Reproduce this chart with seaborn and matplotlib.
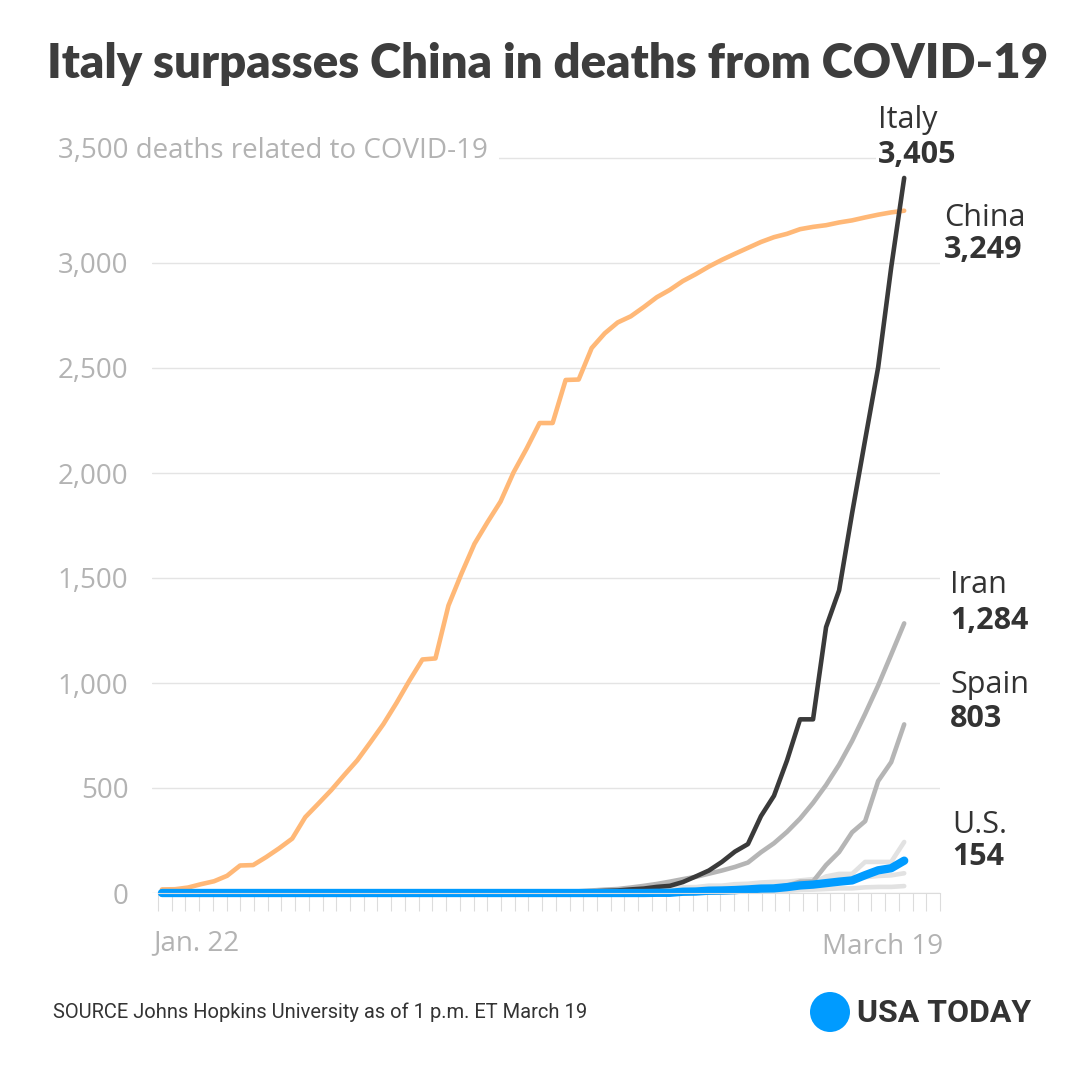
import numpy as np
import pandas as pd
import matplotlib
matplotlib.use('Agg')
import matplotlib.pyplot as plt
import seaborn as sns
from matplotlib.patches import Circle

# data: cumulative deaths, JHU, Jan. 22 - March 19
dates = pd.date_range('2020-01-22', '2020-03-19')

china = [17, 18, 26, 42, 56, 82, 131, 133, 171, 213,
         259, 361, 425, 490, 562, 632, 717, 804, 904, 1011,
         1112, 1117, 1369, 1521, 1663, 1766, 1864, 2003, 2116, 2238,
         2238, 2443, 2445, 2595, 2665, 2717, 2746, 2790, 2837, 2872,
         2914, 2947, 2983, 3015, 3044, 3072, 3100, 3123, 3139, 3161,
         3172, 3180, 3193, 3203, 3217, 3230, 3241, 3249]
italy = [0] * 30 + [1, 2, 3, 7, 10, 12, 17, 21, 29,
                    34, 52, 79, 107, 148, 197, 233, 366, 463, 631,
                    827, 827, 1266, 1441, 1809, 2158, 2503, 2978, 3405]
iran = [0] * 28 + [2, 2, 4, 5, 8, 12, 16, 19, 26, 34, 43,
                   54, 66, 77, 92, 107, 124, 145, 194, 237, 291,
                   354, 429, 514, 611, 724, 853, 988, 1135, 1284]
spain = [0] * 41 + [1, 2, 3, 5, 10, 17, 28, 35, 54, 55,
                    133, 195, 289, 342, 533, 623, 803]
us = [0] * 38 + [1, 1, 6, 7, 11, 12, 14, 17, 21, 22,
                 28, 36, 40, 47, 54, 60, 85, 108, 118, 154]
france = [0] * 23 + [1] * 12 + [2, 2, 2, 2,
                                 2, 3, 4, 4, 6, 9, 11, 19, 19, 33,
                                 48, 48, 79, 91, 91, 148, 148, 148, 243]
korea = [0] * 29 + [1, 2, 2, 6, 8, 10, 12, 13, 13, 16,
                    17, 28, 28, 35, 35, 42, 44, 50, 53, 54,
                    60, 66, 66, 72, 75, 75, 81, 84, 94]
japan = [0] * 22 + [1] * 13 + [2, 4, 4, 5,
                                6, 6, 6, 6, 6, 6, 6, 6, 10, 10,
                                15, 16, 19, 22, 22, 27, 29, 29, 33]

series = {'Japan': japan, 'South Korea': korea, 'France': france,
          'Spain': spain, 'Iran': iran, 'China': china, 'Italy': italy,
          'U.S.': us}
colors = {'Japan': '#e2e2e2', 'South Korea': '#e2e2e2', 'France': '#e2e2e2',
          'Spain': '#b5b5b5', 'Iran': '#b5b5b5', 'China': '#ffb877',
          'Italy': '#3a3a3a', 'U.S.': '#009bff'}

rows = []
for name, vals in series.items():
    for i, v in enumerate(vals):
        rows.append({'country': name, 'day': i, 'date': dates[i], 'deaths': v})
df = pd.DataFrame(rows)

labels = [('Italy', '3,405', 878, 120, 155),
          ('China', '3,249', 944, 218, 250),
          ('Iran', '1,284', 950, 585, 621),
          ('Spain', '803', 950, 685, 719),
          ('U.S.', '154', 952, 825, 857)]

sns.set_theme(style='white')
plt.rcParams['font.family'] = ['Open Sans', 'DejaVu Sans']

fig = plt.figure(figsize=(10.8, 10.8), dpi=100)
ax = fig.add_axes([152 / 1080, 187 / 1080, 788 / 1080, 743.4 / 1080])

for name in series:
    lw = 6 if name == 'U.S.' else 3.3
    sns.lineplot(data=df[df.country == name], x='day', y='deaths', ax=ax,
                 color=colors[name], linewidth=lw, estimator=None,
                 solid_capstyle='round', solid_joinstyle='round', clip_on=False)

ax.set_xlim(-0.768, 59.75)
ax.set_ylim(0, 3540)

grid_col = '#e4e4e4'
yt = [0, 500, 1000, 1500, 2000, 2500, 3000, 3500]
ax.set_yticks(yt)
ax.set_yticklabels(['0', '500', '1,000', '1,500', '2,000', '2,500', '3,000', ''])
ax.tick_params(axis='y', length=0, pad=17, labelsize=20, labelcolor='#b3b3b3')
ax.grid(axis='y', color=grid_col, linewidth=1)
ax.grid(axis='x', visible=False)

xt = np.linspace(-0.31, 59.75, 58)
ax.set_xticks(xt)
ax.set_xticklabels([])
ax.tick_params(axis='x', length=13, width=0.8, color='#dcdcdc', bottom=True)
for s in ['left', 'top', 'right']:
    ax.spines[s].set_visible(False)
ax.spines['bottom'].set_color('#dcdcdc')
ax.spines['bottom'].set_linewidth(0.8)
ax.spines['bottom'].set_bounds(xt[0], xt[-1])
ax.set_xlabel('')
ax.set_ylabel('')


def fpos(x, y):
    return x / 1080, 1 - y / 1080


fig.text(*fpos(548, 64), 'Italy surpasses China in deaths from COVID-19',
         ha='center', va='center', fontsize=34, fontweight='heavy',
         color='#3d3d3d', family=['Lato', 'DejaVu Sans'])

fig.text(*fpos(58, 151), '3,500 deaths related to COVID-19', ha='left', va='center',
         fontsize=20, color='#b3b3b3',
         bbox=dict(facecolor='white', edgecolor='none', pad=8))

for name, val, x, y1, y2 in labels:
    fig.text(*fpos(x, y1), name, ha='left', va='center', fontsize=22, color='#333333',
             bbox=dict(facecolor='white', edgecolor='none', pad=1))
    fig.text(*fpos(x, y2), val, ha='left', va='center', fontsize=22, fontweight='bold',
             color='#333333', bbox=dict(facecolor='white', edgecolor='none', pad=1))

fig.text(*fpos(153, 943), 'Jan. 22', ha='left', va='center', fontsize=20, color='#b3b3b3')
fig.text(*fpos(943, 947), 'March 19', ha='right', va='center', fontsize=20, color='#b3b3b3')

fig.text(*fpos(53, 1012), 'SOURCE Johns Hopkins University as of 1 p.m. ET March 19',
         ha='left', va='center', fontsize=14.5, color='#333333',
         family=['Roboto', 'DejaVu Sans'])

fig.patches.append(Circle(fpos(830, 1012), 20 / 1080, transform=fig.transFigure,
                          facecolor='#009bff', edgecolor='none'))
fig.text(*fpos(857, 1013), 'USA TODAY', ha='left', va='center', fontsize=23,
         fontweight='bold', color='#333333', family=['Roboto', 'DejaVu Sans'])

fig.savefig('out.png', dpi=100)
